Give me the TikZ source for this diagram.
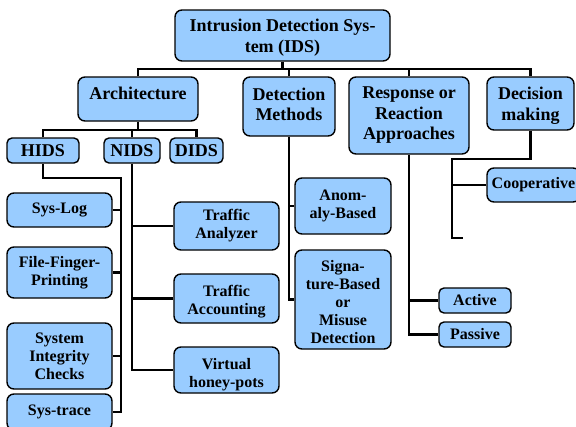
\documentclass[tikz,border=0pt]{standalone}
\usepackage{fontspec}
\setmainfont{Liberation Serif}
\definecolor{boxblue}{HTML}{99CCFF}
% lift or lower a centred block of lines inside its box without changing the box
\newcommand\liftlines[2]{\raisebox{#1}[\height][\depth]{\begin{tabular}{@{}c@{}}#2\end{tabular}}}
\begin{document}
\begin{tikzpicture}[x=1pt,y=-1pt,
  box/.style={draw=black, line width=1.4pt, fill=boxblue, rounded corners=7pt,
    inner sep=0pt, align=center, font=\bfseries\fontsize{18}{20.5}\selectfont},
  leaf/.style={box, font=\bfseries\fontsize{16}{18}\selectfont},
  tag/.style={box, rounded corners=5pt},
  smallleaf/.style={leaf, rounded corners=5pt},
  link/.style={draw=black, line width=2.6pt}]
\useasboundingbox (0,0) rectangle (576,426);

% top level
\node[box, minimum width=215pt, minimum height=51pt] (root) at (282.5,35.5)
  {\liftlines{-2.5pt}{Intrusion Detection Sys-\\tem (IDS)}};
\node[box, minimum width=120pt, minimum height=44pt] (arch) at (138,99)
  {\liftlines{4pt}{Architecture}};
\node[box, minimum width=92pt, minimum height=59pt] (det) at (289,106.5)
  {\liftlines{0pt}{Detection\\Methods}};
\node[box, minimum width=120pt, minimum height=77pt] (resp) at (409,115.5)
  {Response or\\Reaction\\Approaches};
\node[box, minimum width=87pt, minimum height=53pt] (dec) at (530.5,103.5)
  {\liftlines{-2.5pt}{Decision\\making}};

% architectures
\node[tag, minimum width=72pt, minimum height=25pt] (hids) at (43,150.5) {HIDS};
\node[tag, minimum width=56pt, minimum height=25pt] (nids) at (132,150.5) {NIDS};
\node[tag, minimum width=53pt, minimum height=25pt] (dids) at (196.5,150.5) {DIDS};

% host based
\node[leaf, minimum width=105pt, minimum height=34pt] (syslog) at (59.5,210) {Sys-Log};
\node[leaf, minimum width=105pt, minimum height=51pt] (ffp) at (59.5,272.5) {File-Finger-\\Printing};
\node[leaf, minimum width=105pt, minimum height=66pt] (sic) at (59.5,356) {System\\Integrity\\Checks};
\node[leaf, minimum width=105pt, minimum height=36pt] (systrace) at (59.5,412) {Sys-trace};

% network based
\node[leaf, minimum width=105pt, minimum height=48pt] (ta) at (226.5,226) {Traffic\\Analyzer};
\node[leaf, minimum width=105pt, minimum height=49pt] (tacc) at (226.5,298.5)
  {\liftlines{-3pt}{Traffic\\Accounting}};
\node[leaf, minimum width=105pt, minimum height=46pt] (vhp) at (226.5,370)
  {\liftlines{-5pt}{Virtual\\honey-pots}};

% detection methods
\node[leaf, minimum width=96pt, minimum height=56pt] (anom) at (343,206) {Anom-\\aly-Based};
\node[leaf, minimum width=96pt, minimum height=99pt] (sig) at (343,299.5)
  {\liftlines{-4pt}{Signa-\\ture-Based\\or\\Misuse\\Detection}};

% responses and decision making
\node[leaf, minimum width=93pt, minimum height=34pt] (coop) at (533.5,185) {Cooperative};
\node[smallleaf, minimum width=72pt, minimum height=25pt] (active) at (475,300.5) {Active};
\node[smallleaf, minimum width=72pt, minimum height=25pt] (passive) at (475,334.5) {Passive};

% top bus
\coordinate (bus) at (0,69);
\draw[link] (arch.north) -- (arch.north |- bus) -- (dec.north |- bus) -- (dec.north);
\draw[link] (root.south) -- (root.south |- bus);
\draw[link] (det.north) -- (det.north |- bus);
\draw[link] (resp.north) -- (resp.north |- bus);

% architecture bus
\coordinate (abus) at (0,130);
\draw[link] (hids.north) -- (hids.north |- abus) -- (dids.north |- abus) -- (dids.north);
\draw[link] (arch.south) -- (arch.south |- abus);
\draw[link] (nids.north) -- (nids.north |- abus);

% host based tree
\coordinate (hx) at (121,178);
\draw[link] (hids.south) |- (hx) -- (hx |- systrace.east) -- (systrace.east);
\draw[link] (syslog.east) -- (syslog.east -| hx);
\draw[link] (ffp.east) -- (ffp.east -| hx);
\draw[link] (sic.east) -- (sic.east -| hx);

% network based tree
\draw[link] (nids.south) |- (vhp.west);
\draw[link] (ta.west) -- (ta.west -| nids.south);
\draw[link] (tacc.west) -- (tacc.west -| nids.south);

% detection tree
\draw[link] (det.south) |- (sig.west);
\draw[link] (anom.west) -- (anom.west -| det.south);

% response tree
\draw[link] (resp.south) |- (passive.west);
\draw[link] (active.west) -- (active.west -| resp.south);

% decision tree
\coordinate (dx) at (452,159);
\coordinate (dend) at (463,238);
\draw[link] (dec.south) |- (dx) |- (dend);
\draw[link] (coop.west) -- (coop.west -| dx);
\end{tikzpicture}
\end{document}
